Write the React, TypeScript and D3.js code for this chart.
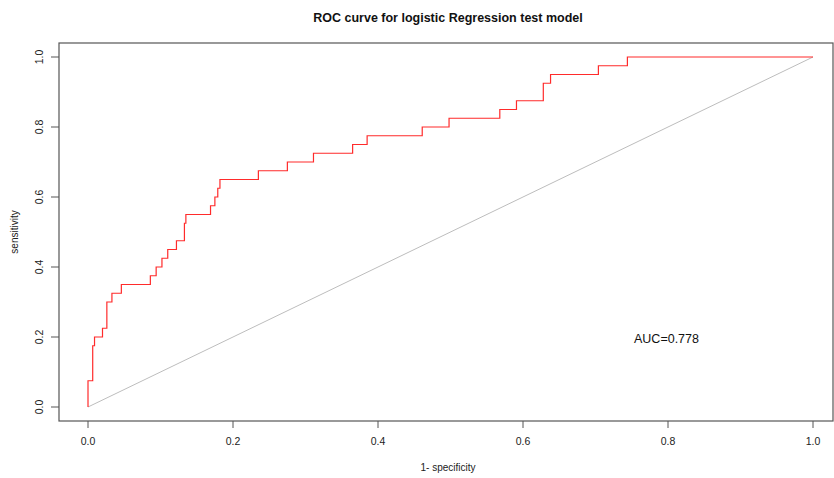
import React, { useEffect, useRef } from 'react';
import * as d3 from 'd3';

// ROC vertices (stepAfter): false positive rate and matching sensitivity
const fpr = [0, 0, 0.0065, 0.009, 0.02, 0.026, 0.033, 0.046, 0.086, 0.094, 0.102, 0.11, 0.122, 0.133, 0.135,
  0.169, 0.175, 0.179, 0.182, 0.235, 0.275, 0.311, 0.365, 0.385, 0.461, 0.498, 0.568, 0.591, 0.628, 0.638,
  0.704, 0.744, 1];
const tpr = [0, 0.075, 0.175, 0.2, 0.225, 0.3, 0.325, 0.35, 0.375, 0.4, 0.425, 0.45, 0.475, 0.525, 0.55,
  0.575, 0.6, 0.625, 0.65, 0.675, 0.7, 0.725, 0.75, 0.775, 0.8, 0.825, 0.85, 0.875, 0.925, 0.95,
  0.975, 1, 1];
const ticks = [0, 0.2, 0.4, 0.6, 0.8, 1.0];
const aucLabel = 'AUC=0.778';

function App() {
  const svgRef = useRef<SVGSVGElement>(null);

  useEffect(() => {
    document.body.style.margin = '0';
    const W = 834, H = 478;
    const box = { left: 59, top: 43, right: 833, bottom: 421 };
    const font = 'Liberation Sans, Arial, sans-serif';

    const svg = d3.select(svgRef.current)
      .attr('width', W)
      .attr('height', H);
    svg.selectAll('*').remove();

    const x = d3.scaleLinear().domain([0, 1]).range([88, 813]);
    const y = d3.scaleLinear().domain([0, 1]).range([407, 57]);

    svg.append('rect').attr('width', W).attr('height', H).attr('fill', '#fff');

    // diagonal reference
    svg.append('line')
      .attr('x1', x(0)).attr('y1', y(0))
      .attr('x2', x(1)).attr('y2', y(1))
      .attr('stroke', '#bdbdbd').attr('stroke-width', 1);

    // ROC step curve
    const pts: [number, number][] = fpr.map((f, i) => [f, tpr[i]]);
    const line = d3.line<[number, number]>()
      .x(d => x(d[0]))
      .y(d => y(d[1]))
      .curve(d3.curveStepAfter);
    svg.append('path')
      .attr('d', line(pts))
      .attr('fill', 'none')
      .attr('stroke', '#ff2b2b')
      .attr('stroke-width', 1.2);

    // plot box
    svg.append('rect')
      .attr('x', box.left).attr('y', box.top)
      .attr('width', box.right - box.left).attr('height', box.bottom - box.top)
      .attr('fill', 'none').attr('stroke', '#555').attr('stroke-width', 1.2);

    // x axis ticks
    const xa = svg.append('g');
    ticks.forEach(t => {
      xa.append('line')
        .attr('x1', x(t)).attr('x2', x(t))
        .attr('y1', box.bottom).attr('y2', box.bottom + 7)
        .attr('stroke', '#555');
      xa.append('text')
        .attr('x', x(t)).attr('y', 445)
        .attr('text-anchor', 'middle')
        .attr('font-family', font).attr('font-size', 10.5)
        .attr('fill', '#222')
        .text(t.toFixed(1));
    });

    // y axis ticks
    const ya = svg.append('g');
    ticks.forEach(t => {
      ya.append('line')
        .attr('x1', box.left - 8).attr('x2', box.left)
        .attr('y1', y(t)).attr('y2', y(t))
        .attr('stroke', '#555');
      ya.append('text')
        .attr('transform', `translate(43,${y(t)}) rotate(-90)`)
        .attr('text-anchor', 'middle')
        .attr('font-family', font).attr('font-size', 10.5)
        .attr('fill', '#222')
        .text(t.toFixed(1));
    });

    // titles
    svg.append('text')
      .attr('x', 448).attr('y', 22)
      .attr('text-anchor', 'middle')
      .attr('font-family', font).attr('font-size', 12.5).attr('font-weight', 'bold')
      .attr('fill', '#111')
      .text('ROC curve for logistic Regression test model');

    svg.append('text')
      .attr('x', 448).attr('y', 471)
      .attr('text-anchor', 'middle')
      .attr('font-family', font).attr('font-size', 10)
      .attr('fill', '#222')
      .text('1- specificity');

    svg.append('text')
      .attr('transform', `translate(18,232) rotate(-90)`)
      .attr('text-anchor', 'middle')
      .attr('font-family', font).attr('font-size', 10)
      .attr('fill', '#222')
      .text('sensitivity');

    svg.append('text')
      .attr('x', 634).attr('y', 343)
      .attr('font-family', font).attr('font-size', 12.5)
      .attr('fill', '#111')
      .text(aucLabel);
  }, []);

  return <svg ref={svgRef} style={{ display: 'block' }}></svg>;
}

export default App;
